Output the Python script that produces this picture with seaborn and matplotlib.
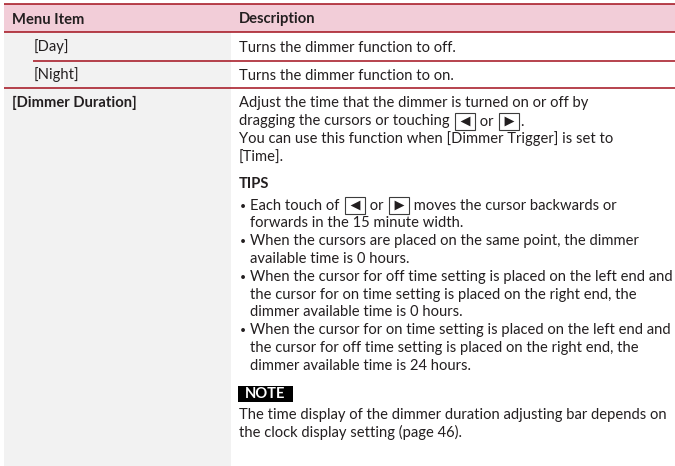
import re
import numpy as np
import pandas as pd
import matplotlib
matplotlib.use("Agg")
from matplotlib import pyplot as plt
from matplotlib.patches import Rectangle
import seaborn as sns

sns.set_theme(style="white")
plt.rcParams['font.family'] = ['Lato', 'DejaVu Sans']

# 表格内容
header = ["Menu Item", "Description"]
menu_items = ["[Day]", "[Night]", "[Dimmer Duration]"]
item_bold = [False, False, True]
item_indent = [True, True, False]
desc_day = ["Turns the dimmer function to off."]
desc_night = ["Turns the dimmer function to on."]
desc_duration = [
    "Adjust the time that the dimmer is turned on or off by",
    "dragging the cursors or touching {L} or {R}.",
    "You can use this function when [Dimmer Trigger] is set to",
    "[Time].",
]
tips_title = "TIPS"
tips = [
    ["Each touch of {L} or {R} moves the cursor backwards or",
     "forwards in the 15 minute width."],
    ["When the cursors are placed on the same point, the dimmer",
     "available time is 0 hours."],
    ["When the cursor for off time setting is placed on the left end and",
     "the cursor for on time setting is placed on the right end, the",
     "dimmer available time is 0 hours."],
    ["When the cursor for on time setting is placed on the left end and",
     "the cursor for off time setting is placed on the right end, the",
     "dimmer available time is 24 hours."],
]
note_title = "NOTE"
note = ["The time display of the dimmer duration adjusting bar depends on",
        "the clock display setting (page 46)."]

# 颜色
INK = '#231f20'
RED = '#a3101c'
PINK = '#f2cdd8'
GRAY = '#f2f2f2'

W, H = 675, 466
fig = plt.figure(figsize=(W / 100, H / 100), dpi=100)
ax = fig.add_axes([0, 0, 1, 1])
ax.set_xlim(0, W)
ax.set_ylim(H, 0)
ax.axis('off')
r = fig.canvas.get_renderer()


def text_width(s, **kw):
    t = ax.text(0, 0, "|" + s + "|", **kw)
    w1 = t.get_window_extent(r).width
    t.remove()
    t = ax.text(0, 0, "||", **kw)
    w0 = t.get_window_extent(r).width
    t.remove()
    return w1 - w0


# 按参考图的行宽来定字号（两行都要放得下）
FS = min(10 * 365 / text_width(desc_duration[0], fontsize=10),
         10 * 423 / text_width(tips[2][0], fontsize=10))


def icon(x, base, kind):
    ax.add_patch(Rectangle((x, base - 12.5), 20, 16.5, facecolor='white',
                           edgecolor='#3c3c3c', lw=0.8, zorder=3))
    ax.scatter([x + 10], [base - 4.3], marker='<' if kind == '{L}' else '>',
               s=50, color=INK, linewidths=0, zorder=4)


def draw_line(x, base, s, weight='normal'):
    for p in re.split(r'(\{L\}|\{R\})', s):
        if p in ('{L}', '{R}'):
            x += 1.5
            icon(x, base, p)
            x += 21.5
        elif p:
            ax.text(x, base, p, fontsize=FS, color=INK, weight=weight,
                    va='baseline', ha='left')
            x += text_width(p, fontsize=FS, weight=weight)


# 背景
ax.add_patch(Rectangle((4, 4), W - 4, 28, color=PINK, lw=0))
ax.add_patch(Rectangle((4, 32), 227, H - 32, color=GRAY, lw=0))

# 分隔线
for y, x0 in [(4, 4), (32, 4), (60.5, 33), (88, 4)]:
    ax.plot([x0, W], [y, y], color=RED, lw=1.1, solid_capstyle='butt')

# 表头
ax.text(12, 23.5, header[0], fontsize=FS, weight='bold', color=INK, va='baseline')
ax.text(239, 23.5, header[1], fontsize=FS, weight='bold', color=INK, va='baseline')

# 左列
row_base = [51.5, 79.5, 107.5]
for name, bold, ind, b in zip(menu_items, item_bold, item_indent, row_base):
    ax.text(34 if ind else 12, b, name, fontsize=FS, color=INK,
            weight='bold' if bold else 'normal', va='baseline')

# 右列
draw_line(239, 51.5, desc_day[0])
draw_line(239, 79.5, desc_night[0])
for i, s in enumerate(desc_duration):
    draw_line(239, 107.5 + 18 * i, s)

draw_line(239, 188.5, tips_title, weight='bold')
b = 209.5
for item in tips:
    ax.text(239.5, b - 0.8, "•", fontsize=FS * 0.7, color=INK, va='baseline')
    for s in item:
        draw_line(250, b, s)
        b += 17.8

ax.add_patch(Rectangle((238, 386), 55, 15.5, color='black', lw=0))
ax.text(265.5, 398, note_title, fontsize=FS, weight='bold', color='white',
        va='baseline', ha='center')
for i, s in enumerate(note):
    draw_line(239, 419.5 + 18 * i, s)

fig.savefig('out.png', dpi=100)
